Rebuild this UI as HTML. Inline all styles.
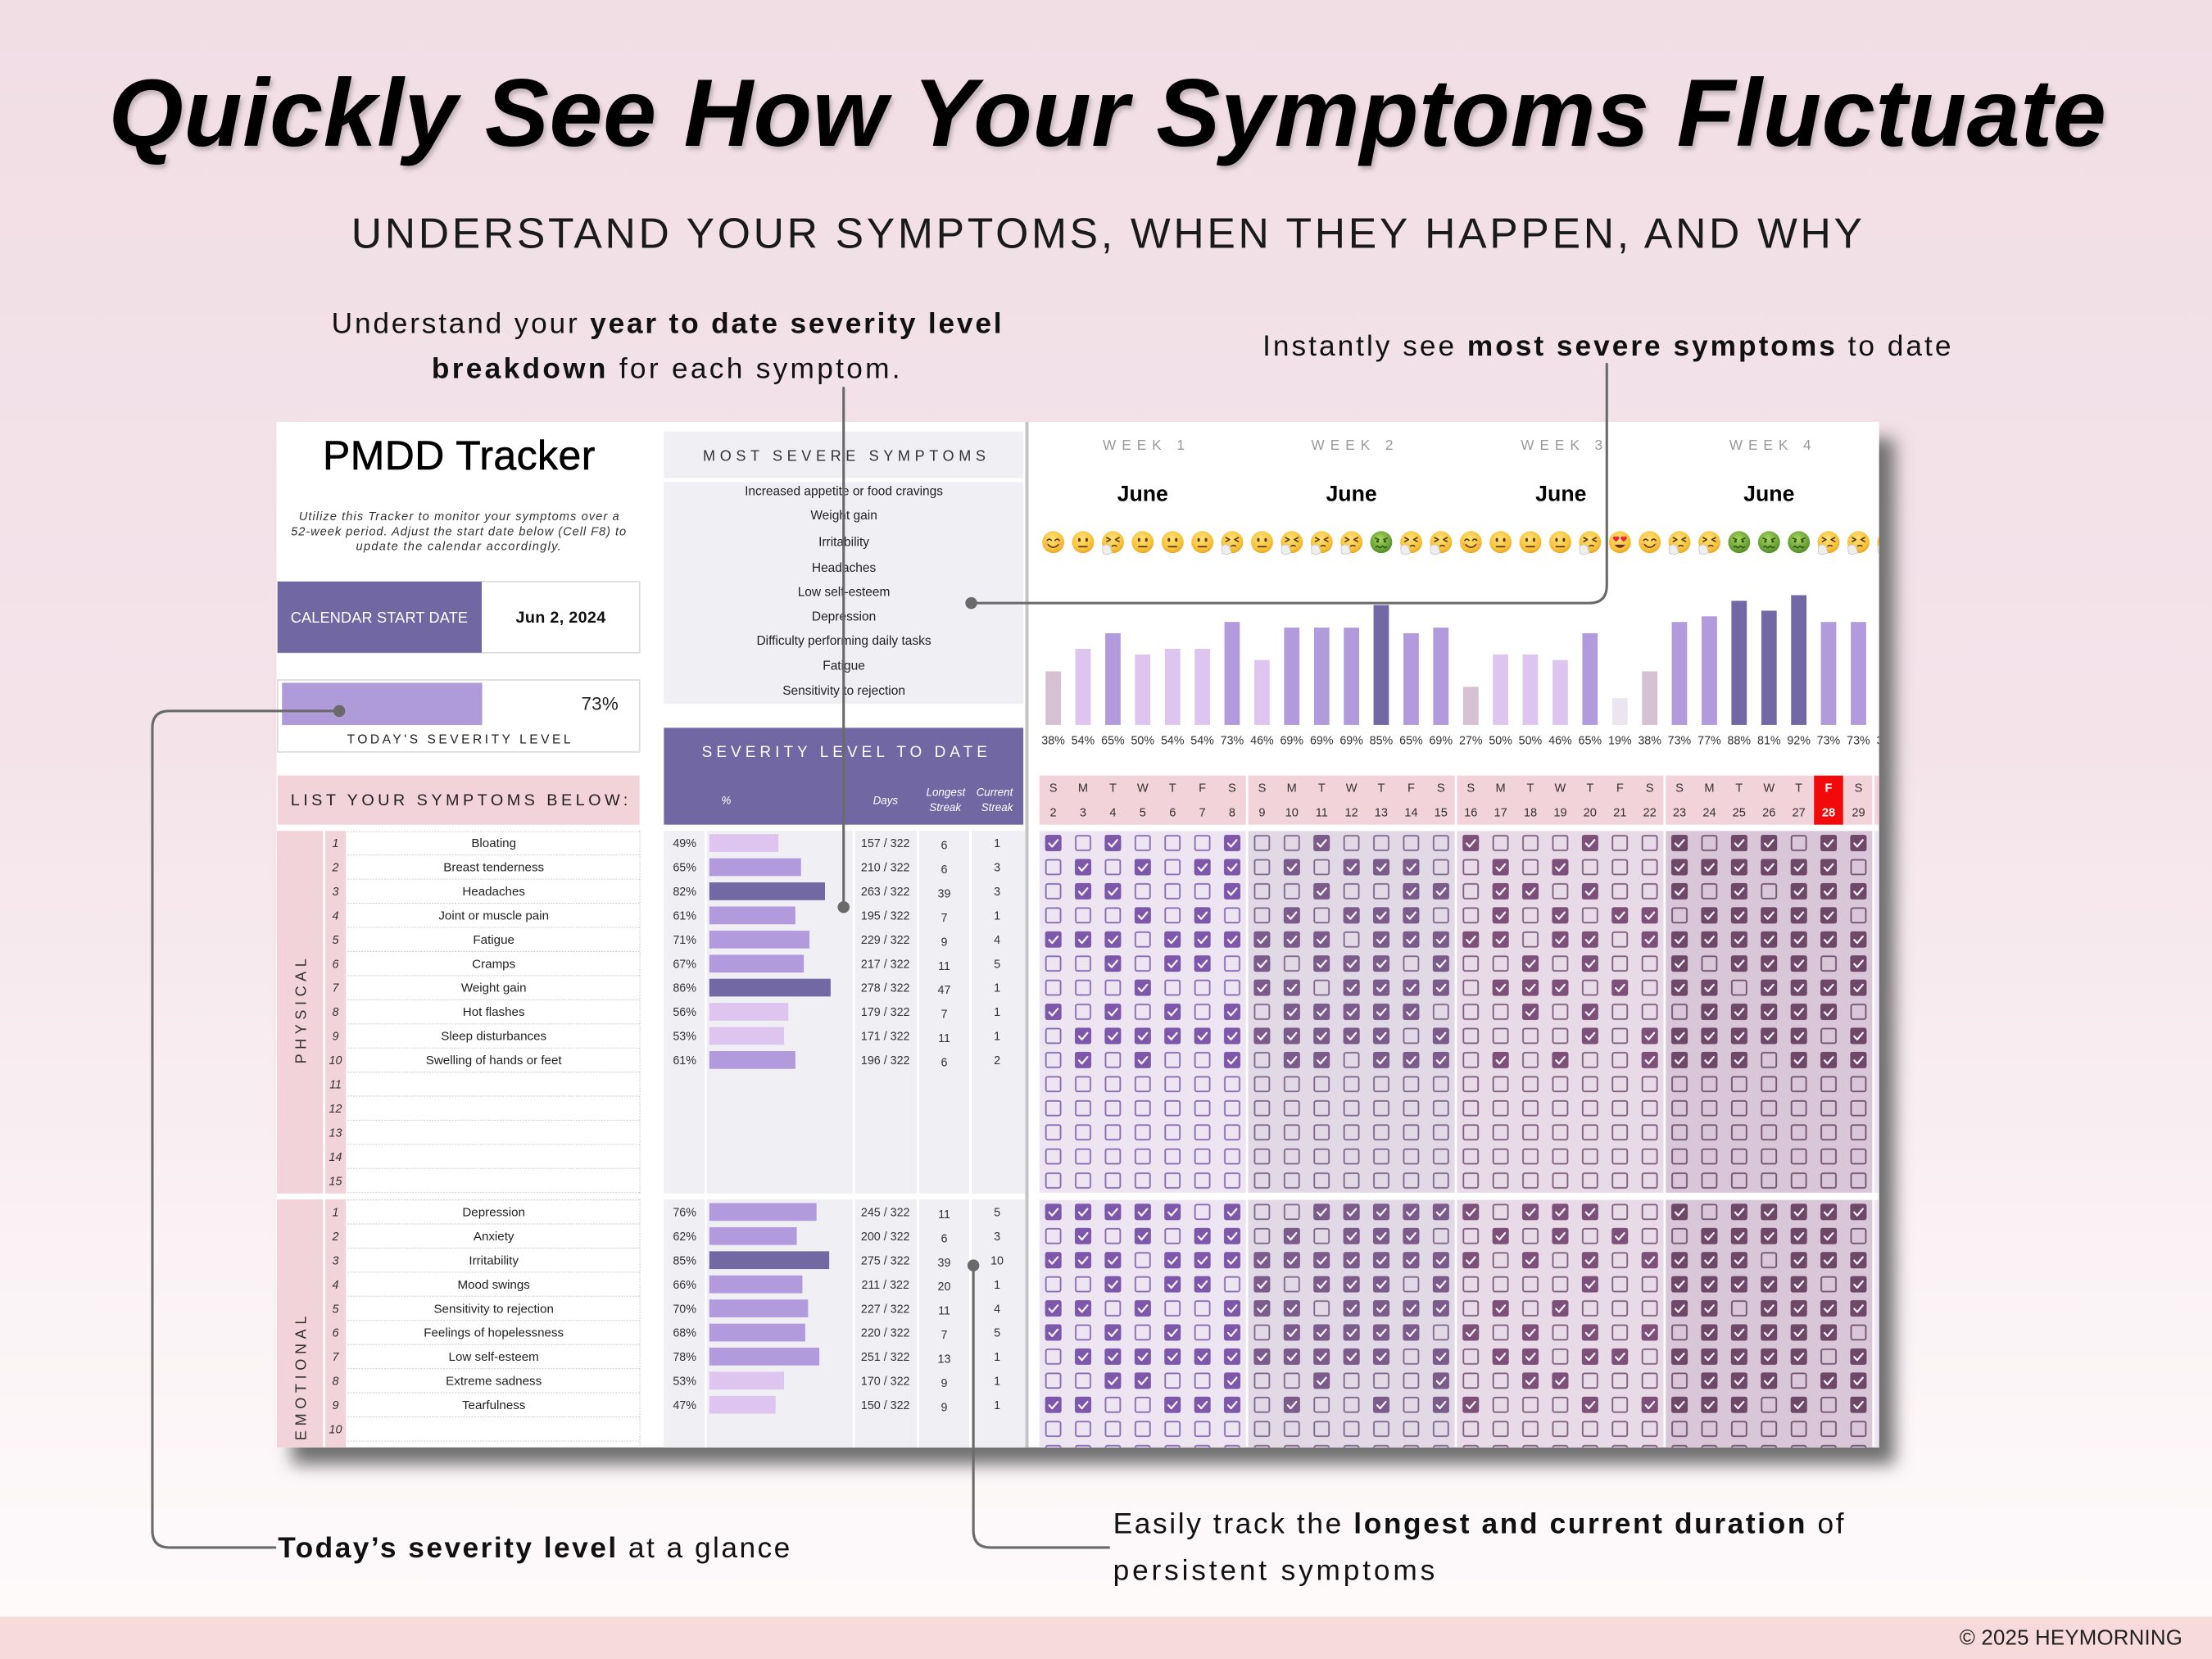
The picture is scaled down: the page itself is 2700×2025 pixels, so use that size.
<!DOCTYPE html>
<html><head><meta charset="utf-8">
<style>
html,body{margin:0;padding:0;background:#fff;}
svg{display:block;}
text{font-family:"Liberation Sans",sans-serif;}
.m{text-anchor:middle;}
</style></head>
<body>
<svg width="2700" height="2025" viewBox="0 0 1568 1176" xmlns="http://www.w3.org/2000/svg">
<defs>
<linearGradient id="bg" x1="0" y1="0" x2="0" y2="1">
<stop offset="0" stop-color="#f1dee5"/><stop offset="0.45" stop-color="#f4e4ea"/><stop offset="0.8" stop-color="#fbf4f6"/><stop offset="1" stop-color="#fefbfb"/>
</linearGradient>
<filter id="sh" x="-10%" y="-10%" width="120%" height="120%"><feGaussianBlur stdDeviation="6"/></filter>
<filter id="ts" x="-5%" y="-20%" width="110%" height="150%"><feDropShadow dx="1.5" dy="2.5" stdDeviation="1.5" flood-color="#000" flood-opacity="0.22"/></filter>
<clipPath id="pc"><rect x="196" y="299" width="1136" height="727"/></clipPath>
<radialGradient id="gy" cx="0.45" cy="0.35" r="0.7"><stop offset="0" stop-color="#ffe27a"/><stop offset="0.7" stop-color="#f7c136"/><stop offset="1" stop-color="#e59d1e"/></radialGradient>
<radialGradient id="gg" cx="0.45" cy="0.35" r="0.7"><stop offset="0" stop-color="#a8d660"/><stop offset="1" stop-color="#4c8a22"/></radialGradient>
<g id="eN"><circle r="7.8" fill="url(#gy)"/><ellipse cx="-2.6" cy="-1.6" rx="0.9" ry="1.4" fill="#5b3a12"/><ellipse cx="2.6" cy="-1.6" rx="0.9" ry="1.4" fill="#5b3a12"/><path d="M-2.9 3.2H2.9" stroke="#5b3a12" stroke-width="1" stroke-linecap="round"/></g>
<g id="eS"><circle r="7.8" fill="url(#gy)"/><ellipse cx="-4.6" cy="1.3" rx="1.5" ry="0.9" fill="#f59a7a" opacity="0.6"/><ellipse cx="4.6" cy="1.3" rx="1.5" ry="0.9" fill="#f59a7a" opacity="0.6"/><path d="M-4.3 -1.2q1.5 -1.9 3 0M1.3 -1.2q1.5 -1.9 3 0M-3.6 1.8q3.6 3.9 7.2 0" fill="none" stroke="#5b3a12" stroke-width="0.95" stroke-linecap="round"/></g>
<g id="eZ"><circle r="7.8" fill="url(#gy)"/><path d="M-4.4 -3.2l2.6 1.4l-2.6 1.4M4.4 -3.2l-2.6 1.4l2.6 1.4M-0.5 2.8q1.5 -1 3 0" fill="none" stroke="#5b3a12" stroke-width="0.95" stroke-linecap="round" stroke-linejoin="round"/><path d="M-7.5 3.5q2.5 -3 5.5 -0.5l1.5 4.5q-3.5 2 -6.5 0.5z" fill="#eeeeee" stroke="#c8c8c8" stroke-width="0.5"/></g>
<g id="eG"><circle r="7.8" fill="url(#gg)"/><path d="M-4.2 -2.8l2.4 0.9M4.2 -2.8l-2.4 0.9" stroke="#2f4f12" stroke-width="0.9" stroke-linecap="round"/><circle cx="-2.6" cy="-0.6" r="0.9" fill="#2f4f12"/><circle cx="2.6" cy="-0.6" r="0.9" fill="#2f4f12"/><path d="M-3.6 3.4q0.9 -1.2 1.8 0t1.8 0t1.8 0t1.8 0" fill="none" stroke="#2f4f12" stroke-width="0.9" stroke-linecap="round"/></g>
<g id="eH"><circle r="7.8" fill="url(#gy)"/><path d="M-2.7 -0.2l-2 -2a1.1 1.1 0 0 1 2 -1.3a1.1 1.1 0 0 1 2 1.3zM2.7 -0.2l-2 -2a1.1 1.1 0 0 1 2 -1.3a1.1 1.1 0 0 1 2 1.3z" fill="#e8253a"/><path d="M-3.8 1.8q3.8 4.5 7.6 0z" fill="#6b2b12"/></g>
<g id="k1"><rect width="11.5" height="11.5" rx="1.4" fill="#7d57aa"/><path d="M2.8 6L4.9 8.3L8.9 3.6" fill="none" stroke="#f6f0f8" stroke-width="1.3" stroke-linecap="round" stroke-linejoin="round"/></g>
<g id="k2"><rect width="11.5" height="11.5" rx="1.4" fill="#7a5b89"/><path d="M2.8 6L4.9 8.3L8.9 3.6" fill="none" stroke="#f6f0f8" stroke-width="1.3" stroke-linecap="round" stroke-linejoin="round"/></g>
<g id="k3"><rect width="11.5" height="11.5" rx="1.4" fill="#7c5079"/><path d="M2.8 6L4.9 8.3L8.9 3.6" fill="none" stroke="#f6f0f8" stroke-width="1.3" stroke-linecap="round" stroke-linejoin="round"/></g>
<g id="k4"><rect width="11.5" height="11.5" rx="1.4" fill="#6d4869"/><path d="M2.8 6L4.9 8.3L8.9 3.6" fill="none" stroke="#f6f0f8" stroke-width="1.3" stroke-linecap="round" stroke-linejoin="round"/></g>
<pattern id="p1" patternUnits="userSpaceOnUse" x="736.03" y="589.05" width="21.14" height="17.09"><rect x="5.37" y="3.345" width="10.4" height="10.4" rx="1.3" fill="none" stroke="#8a6cb2" stroke-width="1.1"/></pattern>
<pattern id="p2" patternUnits="userSpaceOnUse" x="736.03" y="589.05" width="21.14" height="17.09"><rect x="5.37" y="3.345" width="10.4" height="10.4" rx="1.3" fill="none" stroke="#80688f" stroke-width="1.1"/></pattern>
<pattern id="p3" patternUnits="userSpaceOnUse" x="736.03" y="589.05" width="21.14" height="17.09"><rect x="5.37" y="3.345" width="10.4" height="10.4" rx="1.3" fill="none" stroke="#80607f" stroke-width="1.1"/></pattern>
<pattern id="p4" patternUnits="userSpaceOnUse" x="736.03" y="589.05" width="21.14" height="17.09"><rect x="5.37" y="3.345" width="10.4" height="10.4" rx="1.3" fill="none" stroke="#745573" stroke-width="1.1"/></pattern>
</defs>

<!-- background -->
<rect x="0" y="0" width="1568" height="1176" fill="url(#bg)"/>
<rect x="0" y="1146" width="1568" height="30" fill="#f7dadc"/>
<text x="1547" y="1165.7" font-size="15" fill="#222" text-anchor="end" textLength="158">© 2025 HEYMORNING</text>

<!-- title -->
<text x="77" y="103.4" font-size="68" font-weight="bold" font-style="italic" fill="#000" textLength="1416" filter="url(#ts)">Quickly See How Your Symptoms Fluctuate</text>
<text x="249" y="175.8" font-size="30" fill="#1a1a1a" textLength="1071">UNDERSTAND YOUR SYMPTOMS, WHEN THEY HAPPEN, AND WHY</text>

<!-- annotations -->
<g font-size="20.5" fill="#111">
<text x="235" y="236" textLength="475">Understand your <tspan font-weight="bold">year to date severity level</tspan></text>
<text x="306" y="268" textLength="332"><tspan font-weight="bold">breakdown</tspan> for each symptom.</text>
<text x="895" y="252" textLength="488">Instantly see <tspan font-weight="bold">most severe symptoms</tspan> to date</text>
<text x="197" y="1104" textLength="363"><tspan font-weight="bold">Today’s severity level</tspan> at a glance</text>
<text x="789" y="1087" textLength="518">Easily track the <tspan font-weight="bold">longest and current duration</tspan> of</text>
<text x="789" y="1120" textLength="228">persistent symptoms</text>
</g>

<!-- panel shadow + panel -->
<rect x="207" y="311" width="1136" height="727" fill="#707070" filter="url(#sh)"/>
<rect x="196" y="299" width="1136" height="727" fill="#ffffff"/>

<g clip-path="url(#pc)">
<!-- LEFT SECTION -->
<text x="228.8" y="332.9" font-size="29" fill="#000" stroke="#000" stroke-width="0.35" textLength="193">PMDD Tracker</text>
<g font-size="8.5" font-style="italic" fill="#333" class="m">
<text x="325.3" y="368.8" textLength="227">Utilize this Tracker to monitor your symptoms over a</text>
<text x="325" y="379.4" textLength="237.5">52-week period. Adjust the start date below (Cell F8) to</text>
<text x="325" y="390.1" textLength="145.3">update the calendar accordingly.</text>
</g>
<rect x="196.8" y="412.3" width="256.6" height="50.4" fill="#fff" stroke="#dcdcdc" stroke-width="1"/>
<rect x="196.8" y="412.3" width="144.7" height="50.4" fill="#7067a3"/>
<text x="206" y="441.4" font-size="10.5" fill="#fff" textLength="125.6">CALENDAR START DATE</text>
<text x="365.6" y="441.4" font-size="11.5" font-weight="bold" fill="#111" textLength="63.7">Jun 2, 2024</text>
<rect x="196.8" y="482" width="256.6" height="51" fill="#fff" stroke="#dcdcdc" stroke-width="1"/>
<rect x="199.9" y="484" width="141.9" height="30" fill="#b09bda"/>
<text x="412" y="503.3" font-size="13" fill="#222" textLength="26.3">73%</text>
<text x="246" y="527" font-size="9" fill="#222" textLength="158.5">TODAY'S SEVERITY LEVEL</text>
<rect x="196.8" y="549.8" width="256.6" height="34.8" fill="#f2d3da"/>
<text x="206" y="571" font-size="11.5" fill="#222" textLength="239">LIST YOUR SYMPTOMS BELOW:</text>

<!-- left columns -->
<rect x="196.3" y="589" width="32.6" height="257" fill="#f2d3da"/>
<rect x="230.6" y="589" width="14.6" height="257" fill="#f2d3da"/>
<rect x="196.3" y="850.2" width="32.6" height="180" fill="#f2d3da"/>
<rect x="230.6" y="850.2" width="14.6" height="180" fill="#f2d3da"/>
<path d="M246.3 606.1H453.6M246.3 623.2H453.6M246.3 640.3H453.6M246.3 657.4H453.6M246.3 674.5H453.6M246.3 691.6H453.6M246.3 708.7H453.6M246.3 725.8H453.6M246.3 742.9H453.6M246.3 760H453.6M246.3 777H453.6M246.3 794.1H453.6M246.3 811.2H453.6M246.3 828.3H453.6M246.3 845.4H453.6M246.3 589.5H453.6M246.3 850.6H453.6M246.3 867.6H453.6M246.3 884.7H453.6M246.3 901.8H453.6M246.3 918.9H453.6M246.3 936H453.6M246.3 953.1H453.6M246.3 970.2H453.6M246.3 987.3H453.6M246.3 1004.4H453.6M246.3 1021.5H453.6M453.6 589V846M453.6 850V1026" stroke="#c8c8c8" stroke-width="0.6" stroke-dasharray="1 1" fill="none"/>
<text transform="translate(216.8,716.8) rotate(-90)" class="m" font-size="10.5" fill="#333" textLength="74.5">PHYSICAL</text>
<text transform="translate(216.8,977) rotate(-90)" class="m" font-size="10.5" fill="#333" textLength="88">EMOTIONAL</text>
<g font-size="8.3" font-style="italic" fill="#333" class="m">
<text x="237.8" y="600.6">1</text><text x="237.8" y="617.7">2</text><text x="237.8" y="634.8">3</text><text x="237.8" y="651.9">4</text><text x="237.8" y="669">5</text><text x="237.8" y="686.1">6</text><text x="237.8" y="703.1">7</text><text x="237.8" y="720.2">8</text><text x="237.8" y="737.3">9</text><text x="237.8" y="754.4">10</text><text x="237.8" y="771.5">11</text><text x="237.8" y="788.6">12</text><text x="237.8" y="805.7">13</text><text x="237.8" y="822.8">14</text><text x="237.8" y="839.9">15</text>
<text x="237.8" y="862.1">1</text><text x="237.8" y="879.2">2</text><text x="237.8" y="896.3">3</text><text x="237.8" y="913.4">4</text><text x="237.8" y="930.5">5</text><text x="237.8" y="947.6">6</text><text x="237.8" y="964.6">7</text><text x="237.8" y="981.7">8</text><text x="237.8" y="998.8">9</text><text x="237.8" y="1015.9">10</text>
</g>
<g font-size="8.8" fill="#222" class="m">
<text x="350" y="600.6">Bloating</text><text x="350" y="617.7">Breast tenderness</text><text x="350" y="634.8">Headaches</text><text x="350" y="651.9">Joint or muscle pain</text><text x="350" y="669">Fatigue</text><text x="350" y="686.1">Cramps</text><text x="350" y="703.1">Weight gain</text><text x="350" y="720.2">Hot flashes</text><text x="350" y="737.3">Sleep disturbances</text><text x="350" y="754.4">Swelling of hands or feet</text>
<text x="350" y="862.1">Depression</text><text x="350" y="879.2">Anxiety</text><text x="350" y="896.3">Irritability</text><text x="350" y="913.4">Mood swings</text><text x="350" y="930.5">Sensitivity to rejection</text><text x="350" y="947.6">Feelings of hopelessness</text><text x="350" y="964.6">Low self-esteem</text><text x="350" y="981.7">Extreme sadness</text><text x="350" y="998.8">Tearfulness</text>
</g>

<!-- MIDDLE SECTION -->
<rect x="470.6" y="305.9" width="254.8" height="32.9" fill="#efeff4"/>
<text x="498.3" y="326.8" font-size="10.5" fill="#333" textLength="200.3">MOST SEVERE SYMPTOMS</text>
<rect x="470.6" y="341.7" width="254.8" height="157.3" fill="#efeff4"/>
<g font-size="9" fill="#222" class="m">
<text x="598.2" y="351">Increased appetite or food cravings</text>
<text x="598.2" y="368.2">Weight gain</text>
<text x="598.2" y="387.2">Irritability</text>
<text x="598.2" y="405.5">Headaches</text>
<text x="598.2" y="422.6">Low self-esteem</text>
<text x="598.2" y="439.8">Depression</text>
<text x="598.2" y="456.9">Difficulty performing daily tasks</text>
<text x="598.2" y="474.7">Fatigue</text>
<text x="598.2" y="492.6">Sensitivity to rejection</text>
</g>
<rect x="470.6" y="515.9" width="254.8" height="68.7" fill="#7067a3"/>
<text x="497.5" y="536.6" font-size="11" fill="#fff" textLength="202.2">SEVERITY LEVEL TO DATE</text>
<g font-size="7.8" font-style="italic" fill="#fff" class="m">
<text x="514.7" y="570.1">%</text>
<text x="627.7" y="570.1">Days</text>
<text x="670.4" y="564.3">Longest</text><text x="670" y="575">Streak</text>
<text x="705" y="564.3">Current</text><text x="706.8" y="575">Streak</text>
</g>
<rect x="470.6" y="589" width="256" height="257" fill="#efeff4"/>
<rect x="470.6" y="850.2" width="256" height="180" fill="#efeff4"/>
<path d="M500.2 589V846M605.2 589V846M650.8 589V846M687.9 589V846M500.2 850V1030M605.2 850V1030M650.8 850V1030M687.9 850V1030" stroke="#fff" stroke-width="1.6"/>
<g>
<rect x="502.8" y="591.3" width="49" height="12.6" fill="#dec5f0"/>
<rect x="502.8" y="608.4" width="65" height="12.6" fill="#b19bdc"/>
<rect x="502.8" y="625.5" width="82" height="12.6" fill="#7168a4"/>
<rect x="502.8" y="642.6" width="61" height="12.6" fill="#b19bdc"/>
<rect x="502.8" y="659.7" width="71" height="12.6" fill="#b19bdc"/>
<rect x="502.8" y="676.8" width="67" height="12.6" fill="#b19bdc"/>
<rect x="502.8" y="693.8" width="86" height="12.6" fill="#7168a4"/>
<rect x="502.8" y="710.9" width="56" height="12.6" fill="#dec5f0"/>
<rect x="502.8" y="728" width="53" height="12.6" fill="#dec5f0"/>
<rect x="502.8" y="745.1" width="61" height="12.6" fill="#b19bdc"/>
<rect x="502.8" y="852.8" width="76" height="12.6" fill="#b19bdc"/>
<rect x="502.8" y="869.9" width="62" height="12.6" fill="#b19bdc"/>
<rect x="502.8" y="887" width="85" height="12.6" fill="#7168a4"/>
<rect x="502.8" y="904.1" width="66" height="12.6" fill="#b19bdc"/>
<rect x="502.8" y="921.2" width="70" height="12.6" fill="#b19bdc"/>
<rect x="502.8" y="938.3" width="68" height="12.6" fill="#b19bdc"/>
<rect x="502.8" y="955.3" width="78" height="12.6" fill="#b19bdc"/>
<rect x="502.8" y="972.4" width="53" height="12.6" fill="#dec5f0"/>
<rect x="502.8" y="989.5" width="47" height="12.6" fill="#dec5f0"/>
</g>
<g font-size="8.3" fill="#333" class="m">
<text x="485.3" y="600.6">49%</text><text x="627.6" y="600.6">157 / 322</text><text x="669.3" y="602">6</text><text x="706.8" y="600.6">1</text>
<text x="485.3" y="617.7">65%</text><text x="627.6" y="617.7">210 / 322</text><text x="669.3" y="619.1">6</text><text x="706.8" y="617.7">3</text>
<text x="485.3" y="634.8">82%</text><text x="627.6" y="634.8">263 / 322</text><text x="669.3" y="636.2">39</text><text x="706.8" y="634.8">3</text>
<text x="485.3" y="651.9">61%</text><text x="627.6" y="651.9">195 / 322</text><text x="669.3" y="653.3">7</text><text x="706.8" y="651.9">1</text>
<text x="485.3" y="669">71%</text><text x="627.6" y="669">229 / 322</text><text x="669.3" y="670.4">9</text><text x="706.8" y="669">4</text>
<text x="485.3" y="686.1">67%</text><text x="627.6" y="686.1">217 / 322</text><text x="669.3" y="687.5">11</text><text x="706.8" y="686.1">5</text>
<text x="485.3" y="703.1">86%</text><text x="627.6" y="703.1">278 / 322</text><text x="669.3" y="704.5">47</text><text x="706.8" y="703.1">1</text>
<text x="485.3" y="720.2">56%</text><text x="627.6" y="720.2">179 / 322</text><text x="669.3" y="721.6">7</text><text x="706.8" y="720.2">1</text>
<text x="485.3" y="737.3">53%</text><text x="627.6" y="737.3">171 / 322</text><text x="669.3" y="738.7">11</text><text x="706.8" y="737.3">1</text>
<text x="485.3" y="754.4">61%</text><text x="627.6" y="754.4">196 / 322</text><text x="669.3" y="755.8">6</text><text x="706.8" y="754.4">2</text>
<text x="485.3" y="862.1">76%</text><text x="627.6" y="862.1">245 / 322</text><text x="669.3" y="863.5">11</text><text x="706.8" y="862.1">5</text>
<text x="485.3" y="879.2">62%</text><text x="627.6" y="879.2">200 / 322</text><text x="669.3" y="880.6">6</text><text x="706.8" y="879.2">3</text>
<text x="485.3" y="896.3">85%</text><text x="627.6" y="896.3">275 / 322</text><text x="669.3" y="897.7">39</text><text x="706.8" y="896.3">10</text>
<text x="485.3" y="913.4">66%</text><text x="627.6" y="913.4">211 / 322</text><text x="669.3" y="914.8">20</text><text x="706.8" y="913.4">1</text>
<text x="485.3" y="930.5">70%</text><text x="627.6" y="930.5">227 / 322</text><text x="669.3" y="931.9">11</text><text x="706.8" y="930.5">4</text>
<text x="485.3" y="947.6">68%</text><text x="627.6" y="947.6">220 / 322</text><text x="669.3" y="949">7</text><text x="706.8" y="947.6">5</text>
<text x="485.3" y="964.6">78%</text><text x="627.6" y="964.6">251 / 322</text><text x="669.3" y="966">13</text><text x="706.8" y="964.6">1</text>
<text x="485.3" y="981.7">53%</text><text x="627.6" y="981.7">170 / 322</text><text x="669.3" y="983.1">9</text><text x="706.8" y="981.7">1</text>
<text x="485.3" y="998.8">47%</text><text x="627.6" y="998.8">150 / 322</text><text x="669.3" y="1000.2">9</text><text x="706.8" y="998.8">1</text>
</g>

<!-- divider -->
<rect x="726.8" y="299" width="2.3" height="727" fill="#c4c4c4"/>

<!-- RIGHT SECTION -->
<g font-size="10" fill="#9a9a9a" class="m">
<text x="810.7" y="318.8" textLength="58">WEEK 1</text>
<text x="958.5" y="318.8" textLength="58">WEEK 2</text>
<text x="1107" y="318.8" textLength="58">WEEK 3</text>
<text x="1254.8" y="318.8" textLength="58">WEEK 4</text>
</g>
<g font-size="15.5" font-weight="bold" fill="#000" class="m">
<text x="810" y="355.2">June</text><text x="958" y="355.2">June</text><text x="1106.5" y="355.2">June</text><text x="1254" y="355.2">June</text>
</g>
<g>
<use href="#eS" x="746.6" y="384.3"/><use href="#eN" x="767.7" y="384.3"/><use href="#eZ" x="788.9" y="384.3"/><use href="#eN" x="810" y="384.3"/><use href="#eN" x="831.2" y="384.3"/><use href="#eN" x="852.3" y="384.3"/><use href="#eZ" x="873.4" y="384.3"/>
<use href="#eN" x="894.6" y="384.3"/><use href="#eZ" x="915.7" y="384.3"/><use href="#eZ" x="936.9" y="384.3"/><use href="#eZ" x="958" y="384.3"/><use href="#eG" x="979.1" y="384.3"/><use href="#eZ" x="1000.3" y="384.3"/><use href="#eZ" x="1021.4" y="384.3"/>
<use href="#eS" x="1042.6" y="384.3"/><use href="#eN" x="1063.7" y="384.3"/><use href="#eN" x="1084.8" y="384.3"/><use href="#eN" x="1106" y="384.3"/><use href="#eZ" x="1127.1" y="384.3"/><use href="#eH" x="1148.3" y="384.3"/><use href="#eS" x="1169.4" y="384.3"/>
<use href="#eZ" x="1190.5" y="384.3"/><use href="#eZ" x="1211.7" y="384.3"/><use href="#eG" x="1232.8" y="384.3"/><use href="#eG" x="1254" y="384.3"/><use href="#eG" x="1275.1" y="384.3"/><use href="#eZ" x="1296.2" y="384.3"/><use href="#eZ" x="1317.4" y="384.3"/><use href="#eZ" x="1338.5" y="384.3"/>
</g>
<g>
<rect x="741.15" y="475.9" width="10.9" height="38" fill="#d6c1d3"/>
<rect x="762.25" y="459.9" width="10.9" height="54" fill="#dec5ef"/>
<rect x="783.45" y="448.9" width="10.9" height="65" fill="#b29bdd"/>
<rect x="804.55" y="463.9" width="10.9" height="50" fill="#dec5ef"/>
<rect x="825.75" y="459.9" width="10.9" height="54" fill="#dec5ef"/>
<rect x="846.85" y="459.9" width="10.9" height="54" fill="#dec5ef"/>
<rect x="867.95" y="440.9" width="10.9" height="73" fill="#b29bdd"/>
<rect x="889.15" y="467.9" width="10.9" height="46" fill="#dec5ef"/>
<rect x="910.25" y="444.9" width="10.9" height="69" fill="#b29bdd"/>
<rect x="931.45" y="444.9" width="10.9" height="69" fill="#b29bdd"/>
<rect x="952.55" y="444.9" width="10.9" height="69" fill="#b29bdd"/>
<rect x="973.65" y="428.9" width="10.9" height="85" fill="#7268a6"/>
<rect x="994.85" y="448.9" width="10.9" height="65" fill="#b29bdd"/>
<rect x="1015.95" y="444.9" width="10.9" height="69" fill="#b29bdd"/>
<rect x="1037.15" y="486.9" width="10.9" height="27" fill="#d6c1d3"/>
<rect x="1058.25" y="463.9" width="10.9" height="50" fill="#dec5ef"/>
<rect x="1079.35" y="463.9" width="10.9" height="50" fill="#dec5ef"/>
<rect x="1100.55" y="467.9" width="10.9" height="46" fill="#dec5ef"/>
<rect x="1121.65" y="448.9" width="10.9" height="65" fill="#b29bdd"/>
<rect x="1142.85" y="494.9" width="10.9" height="19" fill="#ebe5ef"/>
<rect x="1163.95" y="475.9" width="10.9" height="38" fill="#d6c1d3"/>
<rect x="1185.05" y="440.9" width="10.9" height="73" fill="#b29bdd"/>
<rect x="1206.25" y="436.9" width="10.9" height="77" fill="#b29bdd"/>
<rect x="1227.35" y="425.9" width="10.9" height="88" fill="#7268a6"/>
<rect x="1248.55" y="432.9" width="10.9" height="81" fill="#7268a6"/>
<rect x="1269.65" y="421.9" width="10.9" height="92" fill="#7268a6"/>
<rect x="1290.75" y="440.9" width="10.9" height="73" fill="#b29bdd"/>
<rect x="1311.95" y="440.9" width="10.9" height="73" fill="#b29bdd"/>
<rect x="1333.05" y="475.9" width="10.9" height="38" fill="#d6c1d3"/>
</g>
<g font-size="8.3" fill="#333" class="m">
<text x="746.6" y="527.5">38%</text><text x="767.7" y="527.5">54%</text><text x="788.9" y="527.5">65%</text><text x="810" y="527.5">50%</text><text x="831.2" y="527.5">54%</text><text x="852.3" y="527.5">54%</text><text x="873.4" y="527.5">73%</text>
<text x="894.6" y="527.5">46%</text><text x="915.7" y="527.5">69%</text><text x="936.9" y="527.5">69%</text><text x="958" y="527.5">69%</text><text x="979.1" y="527.5">85%</text><text x="1000.3" y="527.5">65%</text><text x="1021.4" y="527.5">69%</text>
<text x="1042.6" y="527.5">27%</text><text x="1063.7" y="527.5">50%</text><text x="1084.8" y="527.5">50%</text><text x="1106" y="527.5">46%</text><text x="1127.1" y="527.5">65%</text><text x="1148.3" y="527.5">19%</text><text x="1169.4" y="527.5">38%</text>
<text x="1190.5" y="527.5">73%</text><text x="1211.7" y="527.5">77%</text><text x="1232.8" y="527.5">88%</text><text x="1254" y="527.5">81%</text><text x="1275.1" y="527.5">92%</text><text x="1296.2" y="527.5">73%</text><text x="1317.4" y="527.5">73%</text><text x="1338.5" y="527.5">38%</text>
</g>

<!-- day header blocks -->
<rect x="736.8" y="549.8" width="146.4" height="34.8" fill="#f2d3da"/>
<rect x="884.8" y="549.8" width="146.4" height="34.8" fill="#f2d3da"/>
<rect x="1032.8" y="549.8" width="146.4" height="34.8" fill="#f2d3da"/>
<rect x="1180.8" y="549.8" width="146.4" height="34.8" fill="#f2d3da"/>
<rect x="1328.8" y="549.8" width="146.4" height="34.8" fill="#f2d3da"/>
<rect x="1285.9" y="549.8" width="20.6" height="34.8" fill="#f20a0a"/>
<g font-size="8.5" fill="#333" class="m">
<text x="746.6" y="561.4">S</text><text x="767.7" y="561.4">M</text><text x="788.9" y="561.4">T</text><text x="810" y="561.4">W</text><text x="831.2" y="561.4">T</text><text x="852.3" y="561.4">F</text><text x="873.4" y="561.4">S</text>
<text x="894.6" y="561.4">S</text><text x="915.7" y="561.4">M</text><text x="936.9" y="561.4">T</text><text x="958" y="561.4">W</text><text x="979.1" y="561.4">T</text><text x="1000.3" y="561.4">F</text><text x="1021.4" y="561.4">S</text>
<text x="1042.6" y="561.4">S</text><text x="1063.7" y="561.4">M</text><text x="1084.8" y="561.4">T</text><text x="1106" y="561.4">W</text><text x="1127.1" y="561.4">T</text><text x="1148.3" y="561.4">F</text><text x="1169.4" y="561.4">S</text>
<text x="1190.5" y="561.4">S</text><text x="1211.7" y="561.4">M</text><text x="1232.8" y="561.4">T</text><text x="1254" y="561.4">W</text><text x="1275.1" y="561.4">T</text><text x="1317.4" y="561.4">S</text>
<text x="746.6" y="578.8">2</text><text x="767.7" y="578.8">3</text><text x="788.9" y="578.8">4</text><text x="810" y="578.8">5</text><text x="831.2" y="578.8">6</text><text x="852.3" y="578.8">7</text><text x="873.4" y="578.8">8</text>
<text x="894.6" y="578.8">9</text><text x="915.7" y="578.8">10</text><text x="936.9" y="578.8">11</text><text x="958" y="578.8">12</text><text x="979.1" y="578.8">13</text><text x="1000.3" y="578.8">14</text><text x="1021.4" y="578.8">15</text>
<text x="1042.6" y="578.8">16</text><text x="1063.7" y="578.8">17</text><text x="1084.8" y="578.8">18</text><text x="1106" y="578.8">19</text><text x="1127.1" y="578.8">20</text><text x="1148.3" y="578.8">21</text><text x="1169.4" y="578.8">22</text>
<text x="1190.5" y="578.8">23</text><text x="1211.7" y="578.8">24</text><text x="1232.8" y="578.8">25</text><text x="1254" y="578.8">26</text><text x="1275.1" y="578.8">27</text><text x="1317.4" y="578.8">29</text>
</g>
<g font-size="8.5" font-weight="bold" fill="#fff" class="m"><text x="1296.2" y="561.4">F</text><text x="1296.2" y="578.8">28</text></g>

<!-- grid backgrounds -->
<rect x="736.8" y="589.05" width="146.4" height="256.4" fill="#ede5f2"/>
<rect x="884.8" y="589.05" width="146.4" height="256.4" fill="#e2d9e6"/>
<rect x="1032.8" y="589.05" width="146.4" height="256.4" fill="#e9dae8"/>
<rect x="1180.8" y="589.05" width="146.4" height="256.4" fill="#d9c6d8"/>
<rect x="1328.8" y="589.05" width="146.4" height="256.4" fill="#ede5f2"/>
<rect x="736.8" y="850.55" width="146.4" height="190" fill="#ede5f2"/>
<rect x="884.8" y="850.55" width="146.4" height="190" fill="#e2d9e6"/>
<rect x="1032.8" y="850.55" width="146.4" height="190" fill="#e9dae8"/>
<rect x="1180.8" y="850.55" width="146.4" height="190" fill="#d9c6d8"/>
<rect x="1328.8" y="850.55" width="146.4" height="190" fill="#ede5f2"/>
<rect x="736.03" y="589.05" width="147.98" height="256.35" fill="url(#p1)"/>
<rect x="884.01" y="589.05" width="147.98" height="256.35" fill="url(#p2)"/>
<rect x="1031.99" y="589.05" width="147.98" height="256.35" fill="url(#p3)"/>
<rect x="1179.97" y="589.05" width="147.98" height="256.35" fill="url(#p4)"/>
<rect x="1327.95" y="589.05" width="147.98" height="256.35" fill="url(#p1)"/>
<g transform="translate(0,261.5)">
<rect x="736.03" y="589.05" width="147.98" height="188" fill="url(#p1)"/>
<rect x="884.01" y="589.05" width="147.98" height="188" fill="url(#p2)"/>
<rect x="1031.99" y="589.05" width="147.98" height="188" fill="url(#p3)"/>
<rect x="1179.97" y="589.05" width="147.98" height="188" fill="url(#p4)"/>
<rect x="1327.95" y="589.05" width="147.98" height="188" fill="url(#p1)"/>
</g>

<!-- checked: physical -->
<g transform="translate(0,591.85)"><use href="#k1" x="740.9"/><use href="#k1" x="783.1"/><use href="#k1" x="867.7"/><use href="#k2" x="931.1"/><use href="#k3" x="1036.8"/><use href="#k3" x="1121.4"/><use href="#k4" x="1184.8"/><use href="#k4" x="1227.1"/><use href="#k4" x="1248.2"/><use href="#k4" x="1290.5"/><use href="#k4" x="1311.6"/></g>
<g transform="translate(0,608.94)"><use href="#k1" x="762"/><use href="#k1" x="804.3"/><use href="#k1" x="846.6"/><use href="#k1" x="867.7"/><use href="#k2" x="910"/><use href="#k2" x="952.3"/><use href="#k2" x="973.4"/><use href="#k2" x="994.5"/><use href="#k3" x="1058"/><use href="#k3" x="1100.2"/><use href="#k4" x="1184.8"/><use href="#k4" x="1205.9"/><use href="#k4" x="1227.1"/><use href="#k4" x="1248.2"/><use href="#k4" x="1269.4"/><use href="#k4" x="1290.5"/></g>
<g transform="translate(0,626.03)"><use href="#k1" x="762"/><use href="#k1" x="783.1"/><use href="#k1" x="867.7"/><use href="#k2" x="931.1"/><use href="#k2" x="994.5"/><use href="#k2" x="1015.7"/><use href="#k3" x="1058"/><use href="#k3" x="1079.1"/><use href="#k3" x="1121.4"/><use href="#k4" x="1184.8"/><use href="#k4" x="1227.1"/><use href="#k4" x="1269.4"/><use href="#k4" x="1290.5"/><use href="#k4" x="1311.6"/></g>
<g transform="translate(0,643.12)"><use href="#k1" x="804.3"/><use href="#k1" x="846.6"/><use href="#k2" x="910"/><use href="#k2" x="952.3"/><use href="#k2" x="973.4"/><use href="#k2" x="994.5"/><use href="#k3" x="1058"/><use href="#k3" x="1100.2"/><use href="#k3" x="1142.5"/><use href="#k3" x="1163.7"/><use href="#k4" x="1205.9"/><use href="#k4" x="1227.1"/><use href="#k4" x="1248.2"/><use href="#k4" x="1269.4"/><use href="#k4" x="1290.5"/></g>
<g transform="translate(0,660.21)"><use href="#k1" x="740.9"/><use href="#k1" x="762"/><use href="#k1" x="783.1"/><use href="#k1" x="825.4"/><use href="#k1" x="846.6"/><use href="#k1" x="867.7"/><use href="#k2" x="888.8"/><use href="#k2" x="910"/><use href="#k2" x="931.1"/><use href="#k2" x="973.4"/><use href="#k2" x="994.5"/><use href="#k2" x="1015.7"/><use href="#k3" x="1036.8"/><use href="#k3" x="1058"/><use href="#k3" x="1100.2"/><use href="#k3" x="1121.4"/><use href="#k3" x="1163.7"/><use href="#k4" x="1184.8"/><use href="#k4" x="1205.9"/><use href="#k4" x="1227.1"/><use href="#k4" x="1248.2"/><use href="#k4" x="1269.4"/><use href="#k4" x="1290.5"/><use href="#k4" x="1311.6"/></g>
<g transform="translate(0,677.3)"><use href="#k1" x="783.1"/><use href="#k1" x="825.4"/><use href="#k1" x="846.6"/><use href="#k2" x="888.8"/><use href="#k2" x="931.1"/><use href="#k2" x="952.3"/><use href="#k2" x="973.4"/><use href="#k2" x="1015.7"/><use href="#k3" x="1079.1"/><use href="#k3" x="1121.4"/><use href="#k4" x="1184.8"/><use href="#k4" x="1227.1"/><use href="#k4" x="1248.2"/><use href="#k4" x="1269.4"/><use href="#k4" x="1311.6"/></g>
<g transform="translate(0,694.39)"><use href="#k1" x="804.3"/><use href="#k2" x="888.8"/><use href="#k2" x="910"/><use href="#k2" x="952.3"/><use href="#k2" x="973.4"/><use href="#k2" x="994.5"/><use href="#k2" x="1015.7"/><use href="#k3" x="1058"/><use href="#k3" x="1079.1"/><use href="#k3" x="1100.2"/><use href="#k3" x="1142.5"/><use href="#k4" x="1184.8"/><use href="#k4" x="1205.9"/><use href="#k4" x="1248.2"/><use href="#k4" x="1269.4"/><use href="#k4" x="1290.5"/><use href="#k4" x="1311.6"/></g>
<g transform="translate(0,711.48)"><use href="#k1" x="740.9"/><use href="#k1" x="783.1"/><use href="#k1" x="825.4"/><use href="#k1" x="867.7"/><use href="#k2" x="910"/><use href="#k2" x="931.1"/><use href="#k2" x="952.3"/><use href="#k2" x="973.4"/><use href="#k2" x="994.5"/><use href="#k3" x="1079.1"/><use href="#k3" x="1121.4"/><use href="#k4" x="1205.9"/><use href="#k4" x="1227.1"/><use href="#k4" x="1248.2"/><use href="#k4" x="1269.4"/><use href="#k4" x="1290.5"/></g>
<g transform="translate(0,728.57)"><use href="#k1" x="762"/><use href="#k1" x="783.1"/><use href="#k1" x="804.3"/><use href="#k1" x="825.4"/><use href="#k1" x="846.6"/><use href="#k1" x="867.7"/><use href="#k2" x="888.8"/><use href="#k2" x="910"/><use href="#k2" x="931.1"/><use href="#k2" x="952.3"/><use href="#k2" x="973.4"/><use href="#k2" x="1015.7"/><use href="#k3" x="1121.4"/><use href="#k3" x="1163.7"/><use href="#k4" x="1184.8"/><use href="#k4" x="1205.9"/><use href="#k4" x="1227.1"/><use href="#k4" x="1248.2"/><use href="#k4" x="1269.4"/><use href="#k4" x="1311.6"/></g>
<g transform="translate(0,745.66)"><use href="#k1" x="762"/><use href="#k1" x="804.3"/><use href="#k1" x="867.7"/><use href="#k2" x="910"/><use href="#k2" x="931.1"/><use href="#k2" x="973.4"/><use href="#k2" x="994.5"/><use href="#k2" x="1015.7"/><use href="#k3" x="1058"/><use href="#k3" x="1100.2"/><use href="#k3" x="1163.7"/><use href="#k4" x="1184.8"/><use href="#k4" x="1205.9"/><use href="#k4" x="1227.1"/><use href="#k4" x="1269.4"/><use href="#k4" x="1290.5"/><use href="#k4" x="1311.6"/></g>

<!-- checked: emotional -->
<g transform="translate(0,853.35)"><use href="#k1" x="740.9"/><use href="#k1" x="762"/><use href="#k1" x="783.1"/><use href="#k1" x="804.3"/><use href="#k1" x="825.4"/><use href="#k1" x="867.7"/><use href="#k2" x="931.1"/><use href="#k2" x="952.3"/><use href="#k2" x="973.4"/><use href="#k2" x="994.5"/><use href="#k2" x="1015.7"/><use href="#k3" x="1036.8"/><use href="#k3" x="1079.1"/><use href="#k3" x="1100.2"/><use href="#k3" x="1121.4"/><use href="#k4" x="1184.8"/><use href="#k4" x="1227.1"/><use href="#k4" x="1248.2"/><use href="#k4" x="1269.4"/><use href="#k4" x="1290.5"/><use href="#k4" x="1311.6"/></g>
<g transform="translate(0,870.44)"><use href="#k1" x="762"/><use href="#k1" x="804.3"/><use href="#k1" x="846.6"/><use href="#k1" x="867.7"/><use href="#k2" x="910"/><use href="#k2" x="952.3"/><use href="#k2" x="973.4"/><use href="#k2" x="994.5"/><use href="#k3" x="1058"/><use href="#k3" x="1100.2"/><use href="#k3" x="1142.5"/><use href="#k4" x="1205.9"/><use href="#k4" x="1227.1"/><use href="#k4" x="1248.2"/><use href="#k4" x="1269.4"/><use href="#k4" x="1290.5"/></g>
<g transform="translate(0,887.53)"><use href="#k1" x="740.9"/><use href="#k1" x="762"/><use href="#k1" x="783.1"/><use href="#k1" x="825.4"/><use href="#k1" x="846.6"/><use href="#k1" x="867.7"/><use href="#k2" x="888.8"/><use href="#k2" x="910"/><use href="#k2" x="931.1"/><use href="#k2" x="952.3"/><use href="#k2" x="973.4"/><use href="#k2" x="994.5"/><use href="#k2" x="1015.7"/><use href="#k3" x="1036.8"/><use href="#k3" x="1079.1"/><use href="#k3" x="1121.4"/><use href="#k3" x="1163.7"/><use href="#k4" x="1184.8"/><use href="#k4" x="1205.9"/><use href="#k4" x="1227.1"/><use href="#k4" x="1269.4"/><use href="#k4" x="1290.5"/><use href="#k4" x="1311.6"/></g>
<g transform="translate(0,904.62)"><use href="#k1" x="783.1"/><use href="#k1" x="825.4"/><use href="#k1" x="846.6"/><use href="#k2" x="888.8"/><use href="#k2" x="931.1"/><use href="#k2" x="952.3"/><use href="#k2" x="973.4"/><use href="#k2" x="1015.7"/><use href="#k3" x="1121.4"/><use href="#k4" x="1184.8"/><use href="#k4" x="1205.9"/><use href="#k4" x="1227.1"/><use href="#k4" x="1248.2"/><use href="#k4" x="1269.4"/><use href="#k4" x="1311.6"/></g>
<g transform="translate(0,921.71)"><use href="#k1" x="740.9"/><use href="#k1" x="762"/><use href="#k1" x="804.3"/><use href="#k1" x="867.7"/><use href="#k2" x="888.8"/><use href="#k2" x="910"/><use href="#k2" x="952.3"/><use href="#k2" x="973.4"/><use href="#k2" x="994.5"/><use href="#k2" x="1015.7"/><use href="#k3" x="1058"/><use href="#k3" x="1100.2"/><use href="#k4" x="1184.8"/><use href="#k4" x="1205.9"/><use href="#k4" x="1248.2"/><use href="#k4" x="1269.4"/><use href="#k4" x="1290.5"/><use href="#k4" x="1311.6"/></g>
<g transform="translate(0,938.8)"><use href="#k1" x="740.9"/><use href="#k1" x="783.1"/><use href="#k1" x="825.4"/><use href="#k1" x="867.7"/><use href="#k2" x="910"/><use href="#k2" x="931.1"/><use href="#k2" x="952.3"/><use href="#k2" x="973.4"/><use href="#k2" x="994.5"/><use href="#k3" x="1036.8"/><use href="#k3" x="1079.1"/><use href="#k3" x="1121.4"/><use href="#k3" x="1163.7"/><use href="#k4" x="1205.9"/><use href="#k4" x="1227.1"/><use href="#k4" x="1248.2"/><use href="#k4" x="1269.4"/><use href="#k4" x="1290.5"/></g>
<g transform="translate(0,955.89)"><use href="#k1" x="762"/><use href="#k1" x="783.1"/><use href="#k1" x="804.3"/><use href="#k1" x="825.4"/><use href="#k1" x="846.6"/><use href="#k1" x="867.7"/><use href="#k2" x="888.8"/><use href="#k2" x="910"/><use href="#k2" x="931.1"/><use href="#k2" x="952.3"/><use href="#k2" x="973.4"/><use href="#k2" x="1015.7"/><use href="#k3" x="1058"/><use href="#k3" x="1079.1"/><use href="#k3" x="1121.4"/><use href="#k3" x="1142.5"/><use href="#k4" x="1184.8"/><use href="#k4" x="1205.9"/><use href="#k4" x="1227.1"/><use href="#k4" x="1248.2"/><use href="#k4" x="1269.4"/><use href="#k4" x="1311.6"/></g>
<g transform="translate(0,972.98)"><use href="#k1" x="783.1"/><use href="#k1" x="804.3"/><use href="#k1" x="867.7"/><use href="#k2" x="931.1"/><use href="#k2" x="1015.7"/><use href="#k3" x="1079.1"/><use href="#k3" x="1100.2"/><use href="#k4" x="1205.9"/><use href="#k4" x="1227.1"/><use href="#k4" x="1248.2"/><use href="#k4" x="1290.5"/><use href="#k4" x="1311.6"/></g>
<g transform="translate(0,990.07)"><use href="#k1" x="740.9"/><use href="#k1" x="762"/><use href="#k1" x="825.4"/><use href="#k1" x="846.6"/><use href="#k1" x="867.7"/><use href="#k2" x="910"/><use href="#k2" x="973.4"/><use href="#k2" x="1015.7"/><use href="#k3" x="1036.8"/><use href="#k3" x="1121.4"/><use href="#k3" x="1163.7"/><use href="#k4" x="1184.8"/><use href="#k4" x="1205.9"/><use href="#k4" x="1227.1"/><use href="#k4" x="1269.4"/><use href="#k4" x="1311.6"/></g>
</g>

<!-- connectors -->
<g stroke="#6a6a6a" stroke-width="1.8" fill="none" stroke-linecap="round">
<path d="M598 275V643"/>
<path d="M1139 258V415Q1139 427.5 1126.5 427.5H688.5"/>
<path d="M240.5 504H120Q108 504 108 516V1085Q108 1097 120 1097H195"/>
<path d="M690 897V1085Q690 1097 702 1097H786"/>
</g>
<g fill="#6a6a6a">
<circle cx="598" cy="643" r="4.2"/>
<circle cx="688.5" cy="427.5" r="4.2"/>
<circle cx="240.5" cy="504" r="4.2"/>
<circle cx="690" cy="897" r="4.2"/>
</g>
</svg>
</body></html>
